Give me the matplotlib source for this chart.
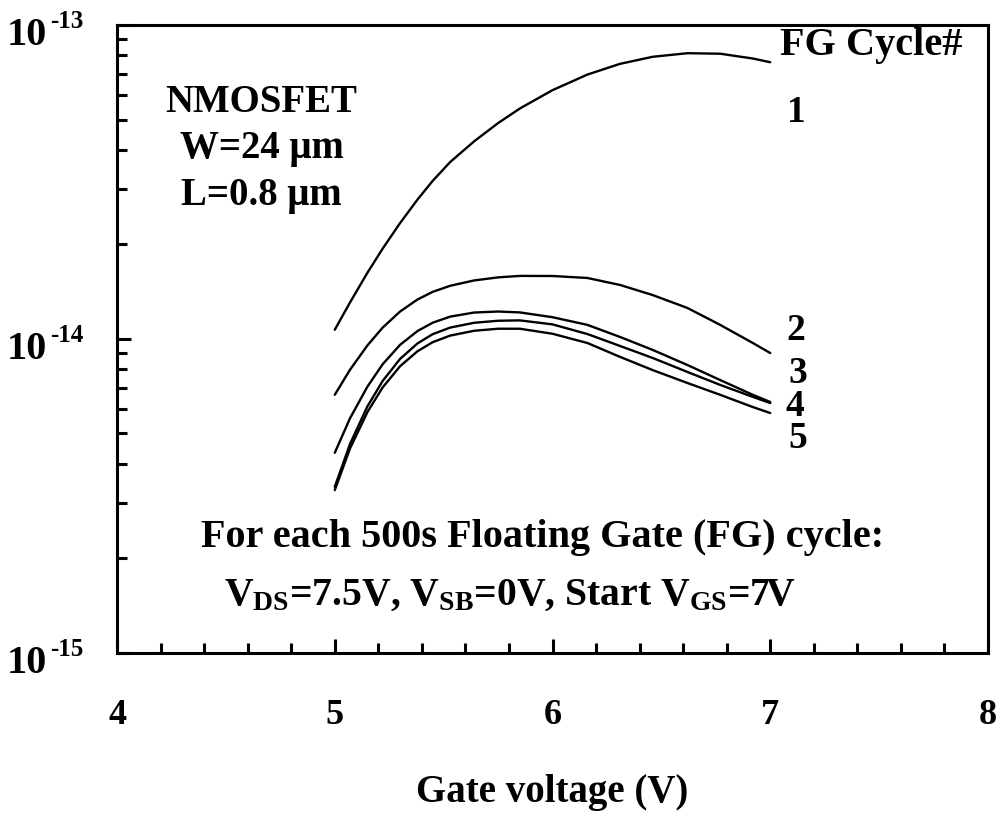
import matplotlib
matplotlib.use("Agg")
import matplotlib.pyplot as plt
from matplotlib.ticker import FixedLocator, LogLocator, MultipleLocator, NullFormatter

plt.rcParams['font.family'] = ['Liberation Serif', 'DejaVu Serif']
plt.rcParams['font.weight'] = 'bold'
plt.rcParams['mathtext.fontset'] = 'custom'
plt.rcParams['mathtext.rm'] = 'Liberation Serif:bold'
plt.rcParams['mathtext.it'] = 'Liberation Serif:bold'
plt.rcParams['mathtext.bf'] = 'Liberation Serif:bold'

# Gate voltage sample points (V)
gate_v = [5.0, 5.07, 5.15, 5.22, 5.30, 5.38, 5.45, 5.53, 5.64, 5.75,
          5.85, 6.0, 6.16, 6.31, 6.46, 6.62, 6.77, 6.92, 7.0]

# Measured current (A) after each floating-gate cycle
cycle_1 = [1.07e-14, 1.307e-14, 1.625e-14, 1.94e-14, 2.34e-14, 2.78e-14, 3.19e-14, 3.66e-14, 4.26e-14, 4.87e-14,
           5.42e-14, 6.20e-14, 6.95e-14, 7.52e-14, 7.92e-14, 8.13e-14, 8.10e-14, 7.82e-14, 7.61e-14]
cycle_2 = [6.64e-15, 7.98e-15, 9.54e-15, 1.087e-14, 1.223e-14, 1.336e-14, 1.413e-14, 1.477e-14, 1.536e-14, 1.571e-14,
           1.588e-14, 1.587e-14, 1.564e-14, 1.486e-14, 1.38e-14, 1.255e-14, 1.109e-14, 9.71e-15, 9.02e-15]
cycle_3 = [4.34e-15, 5.59e-15, 7.05e-15, 8.31e-15, 9.58e-15, 1.06e-14, 1.127e-14, 1.178e-14, 1.214e-14, 1.223e-14,
           1.215e-14, 1.173e-14, 1.109e-14, 1.015e-14, 9.23e-15, 8.26e-15, 7.40e-15, 6.64e-15, 6.30e-15]
cycle_4 = [3.38e-15, 4.63e-15, 6.10e-15, 7.35e-15, 8.64e-15, 9.68e-15, 1.036e-14, 1.087e-14, 1.126e-14, 1.143e-14,
           1.146e-14, 1.113e-14, 1.037e-14, 9.50e-15, 8.70e-15, 7.85e-15, 7.14e-15, 6.54e-15, 6.25e-15]
cycle_5 = [3.30e-15, 4.48e-15, 5.85e-15, 7.01e-15, 8.19e-15, 9.14e-15, 9.77e-15, 1.025e-14, 1.062e-14, 1.078e-14,
           1.078e-14, 1.039e-14, 9.71e-15, 8.77e-15, 7.96e-15, 7.24e-15, 6.64e-15, 6.07e-15, 5.81e-15]

cycles = [cycle_1, cycle_2, cycle_3, cycle_4, cycle_5]
cycle_names = ['1', '2', '3', '4', '5']

x_ticks = [4, 5, 6, 7, 8]
x_tick_labels = ['4', '5', '6', '7', '8']
y_ticks = [1e-15, 1e-14, 1e-13]
y_exponents = ['-15', '-14', '-13']

fig = plt.figure(figsize=(10.02, 8.30), dpi=100)
ax = fig.add_axes([0.1168, 0.2133, 0.8692, 0.7566])

for series in cycles:
    ax.plot(gate_v, series, color='black', lw=1.7, solid_capstyle='round',
            solid_joinstyle='round')

ax.set_yscale('log')
ax.set_xlim(4, 8)
ax.set_ylim(1e-15, 1e-13)

ax.xaxis.set_major_locator(FixedLocator(x_ticks))
ax.set_xticklabels(x_tick_labels)
ax.xaxis.set_minor_locator(MultipleLocator(0.2))
ax.yaxis.set_major_locator(FixedLocator(y_ticks))
ax.set_yticklabels([''] * len(y_ticks))
ax.yaxis.set_minor_locator(LogLocator(base=10, subs=range(2, 10)))
ax.yaxis.set_minor_formatter(NullFormatter())

ax.tick_params(axis='both', which='both', direction='in', top=False, right=False,
               width=2.2, color='black')
ax.tick_params(axis='both', which='major', length=10)
ax.tick_params(axis='both', which='minor', length=7)
ax.tick_params(axis='x', which='major', labelsize=26, pad=33)

# Decade labels on the current axis: "10" with a small raised exponent
for val, exp in zip(y_ticks, y_exponents):
    ax.annotate('10', xy=(0, val), xycoords=('axes fraction', 'data'),
                xytext=(-70, -20), textcoords='offset pixels',
                ha='right', va='baseline', fontsize=29, fontweight='bold')
    ax.annotate(exp, xy=(0, val), xycoords=('axes fraction', 'data'),
                xytext=(-67, -3), textcoords='offset pixels',
                ha='left', va='baseline', fontsize=18, fontweight='bold')

for sp in ax.spines.values():
    sp.set_linewidth(2.2)

ax.set_xlabel('Gate voltage (V)', fontsize=28, fontweight='bold')
ax.xaxis.set_label_coords(0.5, -0.193)

txt = dict(fontweight='bold', transform=ax.transAxes)
ax.text(0.166, 0.876, 'NMOSFET', ha='center', va='center', fontsize=28, **txt)
ax.text(0.166, 0.804, 'W=24 μm', ha='center', va='center', fontsize=28, **txt)
ax.text(0.166, 0.729, 'L=0.8 μm', ha='center', va='center', fontsize=28, **txt)

ax.text(0.761, 0.952, 'FG Cycle#', ha='left', va='baseline', fontsize=29, **txt)
label_pos = [(0.769, 0.8455), (0.768, 0.498), (0.771, 0.430), (0.768, 0.377), (0.771, 0.326)]
for name, (lx, ly) in zip(cycle_names, label_pos):
    ax.text(lx, ly, name, ha='left', va='baseline', fontsize=27, **txt)

ax.text(0.489, 0.169, 'For each 500s Floating Gate (FG) cycle:', ha='center', va='baseline',
        fontsize=29, **txt)
ax.text(0.451, 0.0764, 'V$_{DS}$=7.5V, V$_{SB}$=0V, Start V$_{GS}$=7V',
        ha='center', va='baseline', fontsize=28.5, **txt)

fig.savefig('out.png', dpi=100)
